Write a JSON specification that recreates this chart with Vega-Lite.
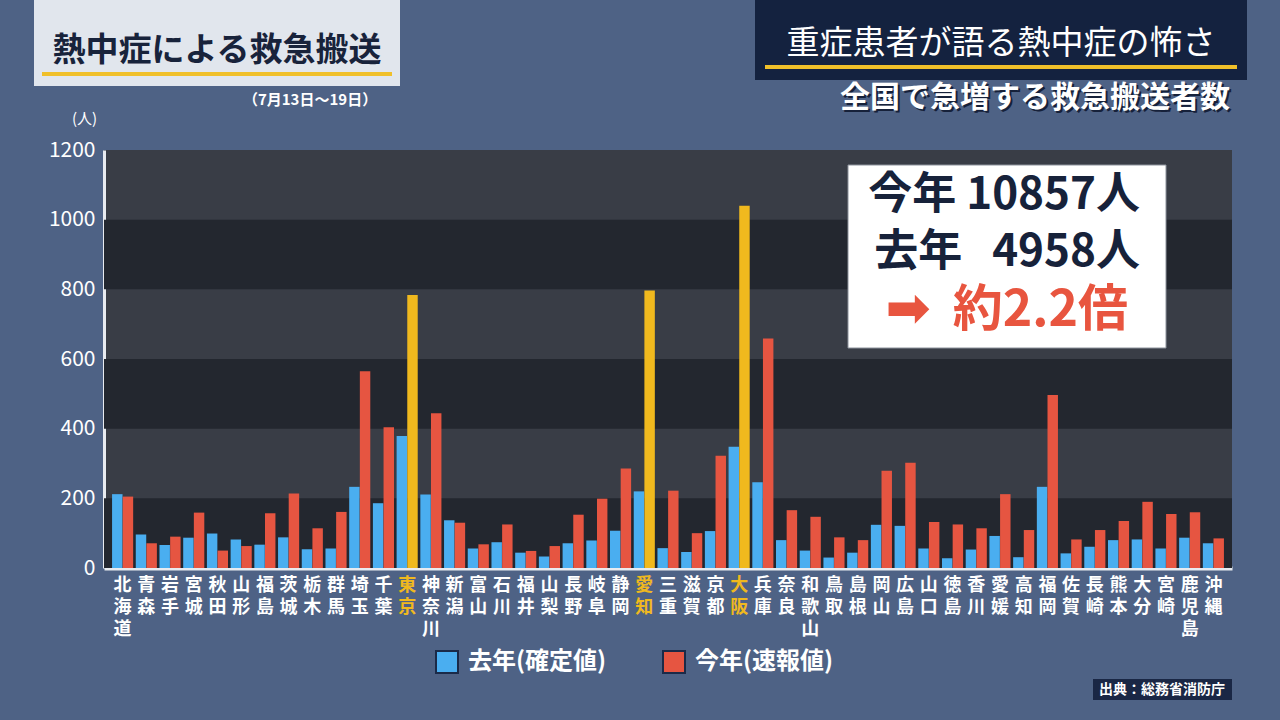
{
  "$schema": "https://vega.github.io/schema/vega-lite/v6.json",
  "width": 1128,
  "height": 418,
  "autosize": {"type": "none"},
  "padding": {"left": 104, "top": 150, "right": 48, "bottom": 152},
  "background": "#4e6285",
  "config": {
    "view": {"fill": "#393d46", "stroke": null},
    "font": "Noto Sans CJK JP"
  },
  "datasets": {
    "bands": [
      {"lo": 0, "hi": 200},
      {"lo": 400, "hi": 600},
      {"lo": 800, "hi": 1000}
    ],
    "main": [
      {"pref": "北海道", "series": "去年(確定値)", "value": 212}, {"pref": "北海道", "series": "今年(速報値)", "value": 205},
      {"pref": "青森", "series": "去年(確定値)", "value": 96}, {"pref": "青森", "series": "今年(速報値)", "value": 71},
      {"pref": "岩手", "series": "去年(確定値)", "value": 66}, {"pref": "岩手", "series": "今年(速報値)", "value": 90},
      {"pref": "宮城", "series": "去年(確定値)", "value": 87}, {"pref": "宮城", "series": "今年(速報値)", "value": 159},
      {"pref": "秋田", "series": "去年(確定値)", "value": 99}, {"pref": "秋田", "series": "今年(速報値)", "value": 50},
      {"pref": "山形", "series": "去年(確定値)", "value": 82}, {"pref": "山形", "series": "今年(速報値)", "value": 63},
      {"pref": "福島", "series": "去年(確定値)", "value": 67}, {"pref": "福島", "series": "今年(速報値)", "value": 157},
      {"pref": "茨城", "series": "去年(確定値)", "value": 88}, {"pref": "茨城", "series": "今年(速報値)", "value": 214},
      {"pref": "栃木", "series": "去年(確定値)", "value": 54}, {"pref": "栃木", "series": "今年(速報値)", "value": 114},
      {"pref": "群馬", "series": "去年(確定値)", "value": 56}, {"pref": "群馬", "series": "今年(速報値)", "value": 161},
      {"pref": "埼玉", "series": "去年(確定値)", "value": 233}, {"pref": "埼玉", "series": "今年(速報値)", "value": 565},
      {"pref": "千葉", "series": "去年(確定値)", "value": 186}, {"pref": "千葉", "series": "今年(速報値)", "value": 404},
      {"pref": "東京", "series": "去年(確定値)", "value": 379}, {"pref": "東京", "series": "今年(速報値)", "value": 784},
      {"pref": "神奈川", "series": "去年(確定値)", "value": 211}, {"pref": "神奈川", "series": "今年(速報値)", "value": 444},
      {"pref": "新潟", "series": "去年(確定値)", "value": 137}, {"pref": "新潟", "series": "今年(速報値)", "value": 130},
      {"pref": "富山", "series": "去年(確定値)", "value": 56}, {"pref": "富山", "series": "今年(速報値)", "value": 68},
      {"pref": "石川", "series": "去年(確定値)", "value": 74}, {"pref": "石川", "series": "今年(速報値)", "value": 125},
      {"pref": "福井", "series": "去年(確定値)", "value": 44}, {"pref": "福井", "series": "今年(速報値)", "value": 49},
      {"pref": "山梨", "series": "去年(確定値)", "value": 33}, {"pref": "山梨", "series": "今年(速報値)", "value": 63},
      {"pref": "長野", "series": "去年(確定値)", "value": 71}, {"pref": "長野", "series": "今年(速報値)", "value": 153},
      {"pref": "岐阜", "series": "去年(確定値)", "value": 79}, {"pref": "岐阜", "series": "今年(速報値)", "value": 199},
      {"pref": "静岡", "series": "去年(確定値)", "value": 107}, {"pref": "静岡", "series": "今年(速報値)", "value": 286},
      {"pref": "愛知", "series": "去年(確定値)", "value": 220}, {"pref": "愛知", "series": "今年(速報値)", "value": 797},
      {"pref": "三重", "series": "去年(確定値)", "value": 57}, {"pref": "三重", "series": "今年(速報値)", "value": 222},
      {"pref": "滋賀", "series": "去年(確定値)", "value": 46}, {"pref": "滋賀", "series": "今年(速報値)", "value": 100},
      {"pref": "京都", "series": "去年(確定値)", "value": 106}, {"pref": "京都", "series": "今年(速報値)", "value": 322},
      {"pref": "大阪", "series": "去年(確定値)", "value": 348}, {"pref": "大阪", "series": "今年(速報値)", "value": 1040},
      {"pref": "兵庫", "series": "去年(確定値)", "value": 246}, {"pref": "兵庫", "series": "今年(速報値)", "value": 659},
      {"pref": "奈良", "series": "去年(確定値)", "value": 80}, {"pref": "奈良", "series": "今年(速報値)", "value": 166},
      {"pref": "和歌山", "series": "去年(確定値)", "value": 50}, {"pref": "和歌山", "series": "今年(速報値)", "value": 147},
      {"pref": "鳥取", "series": "去年(確定値)", "value": 30}, {"pref": "鳥取", "series": "今年(速報値)", "value": 88},
      {"pref": "島根", "series": "去年(確定値)", "value": 44}, {"pref": "島根", "series": "今年(速報値)", "value": 80},
      {"pref": "岡山", "series": "去年(確定値)", "value": 124}, {"pref": "岡山", "series": "今年(速報値)", "value": 279},
      {"pref": "広島", "series": "去年(確定値)", "value": 121}, {"pref": "広島", "series": "今年(速報値)", "value": 302},
      {"pref": "山口", "series": "去年(確定値)", "value": 56}, {"pref": "山口", "series": "今年(速報値)", "value": 132},
      {"pref": "徳島", "series": "去年(確定値)", "value": 28}, {"pref": "徳島", "series": "今年(速報値)", "value": 125},
      {"pref": "香川", "series": "去年(確定値)", "value": 53}, {"pref": "香川", "series": "今年(速報値)", "value": 114},
      {"pref": "愛媛", "series": "去年(確定値)", "value": 92}, {"pref": "愛媛", "series": "今年(速報値)", "value": 212},
      {"pref": "高知", "series": "去年(確定値)", "value": 31}, {"pref": "高知", "series": "今年(速報値)", "value": 109},
      {"pref": "福岡", "series": "去年(確定値)", "value": 233}, {"pref": "福岡", "series": "今年(速報値)", "value": 497},
      {"pref": "佐賀", "series": "去年(確定値)", "value": 42}, {"pref": "佐賀", "series": "今年(速報値)", "value": 82},
      {"pref": "長崎", "series": "去年(確定値)", "value": 61}, {"pref": "長崎", "series": "今年(速報値)", "value": 109},
      {"pref": "熊本", "series": "去年(確定値)", "value": 80}, {"pref": "熊本", "series": "今年(速報値)", "value": 135},
      {"pref": "大分", "series": "去年(確定値)", "value": 82}, {"pref": "大分", "series": "今年(速報値)", "value": 190},
      {"pref": "宮崎", "series": "去年(確定値)", "value": 56}, {"pref": "宮崎", "series": "今年(速報値)", "value": 155},
      {"pref": "鹿児島", "series": "去年(確定値)", "value": 87}, {"pref": "鹿児島", "series": "今年(速報値)", "value": 160},
      {"pref": "沖縄", "series": "去年(確定値)", "value": 71}, {"pref": "沖縄", "series": "今年(速報値)", "value": 85}
    ]
  },
  "layer": [
    {
      "data": {"name": "bands"},
      "mark": {"type": "rect", "color": "#23272f"},
      "encoding": {
        "y": {"field": "lo", "type": "quantitative"},
        "y2": {"field": "hi"},
        "x": {"value": 0},
        "x2": {"value": 1128}
      }
    },
    {
      "data": {"name": "main"},
      "mark": {"type": "bar"},
      "encoding": {
        "x": {
          "field": "pref",
          "type": "nominal",
          "sort": null,
          "scale": {"paddingInner": 0.11, "paddingOuter": 0.34},
          "axis": {
            "title": null,
            "labelAngle": 0,
            "labelExpr": "split(datum.label, '')",
            "labelLineHeight": 22,
            "labelFontSize": 18,
            "labelFontWeight": "bold",
            "labelBaseline": "top",
            "labelPadding": 8,
            "labelColor": {"condition": {"test": "indexof(['東京','愛知','大阪'], datum.value) >= 0", "value": "#f0b91e"}, "value": "#ffffff"},
            "ticks": false,
            "domainColor": "#e8ebf0",
            "domainWidth": 4,
            "labelOverlap": false
          }
        },
        "xOffset": {
          "field": "series",
          "type": "nominal",
          "sort": ["去年(確定値)", "今年(速報値)"],
          "scale": {"paddingInner": 0.02}
        },
        "y": {
          "field": "value",
          "type": "quantitative",
          "scale": {"domain": [0, 1200], "nice": false},
          "axis": {
            "values": [0, 200, 400, 600, 800, 1000, 1200],
            "format": "d",
            "title": "(人)",
            "titleAngle": 0,
            "titleX": -20,
            "titleY": -32,
            "titleAlign": "center",
            "titleBaseline": "middle",
            "titleColor": "#ffffff",
            "titleFontSize": 15,
            "titleFontWeight": "normal",
            "labelColor": "#ffffff",
            "labelFontSize": 21,
            "labelPadding": 9,
            "ticks": false,
            "grid": false,
            "domainColor": "#e8ebf0",
            "domainWidth": 3
          }
        },
        "color": {
          "condition": {"test": "datum.series == '今年(速報値)' && indexof(['東京','愛知','大阪'], datum.pref) >= 0", "value": "#f0b91e"},
          "field": "series",
          "type": "nominal",
          "scale": {"domain": ["去年(確定値)", "今年(速報値)"], "range": ["#4aaef0", "#e65541"]},
          "legend": {
            "title": null,
            "orient": "none",
            "direction": "horizontal",
            "legendX": 331,
            "legendY": 500,
            "symbolType": "square",
            "symbolSize": 484,
            "symbolStrokeColor": "#1b2a48",
            "symbolStrokeWidth": 2,
            "symbolOpacity": 1,
            "labelColor": "#ffffff",
            "labelFontSize": 24,
            "labelFontWeight": "bold",
            "labelOffset": 9,
            "columnPadding": 52,
            "labelLimit": 300
          }
        }
      }
    },
    {
      "data": {"values": [{}]},
      "mark": {"type": "rect", "color": "#e9edf2", "opacity": 0.95},
      "encoding": {"x": {"value": -70}, "x2": {"value": 296}, "y": {"value": -150}, "y2": {"value": -64}}
    },
    {
      "data": {"values": [{}]},
      "mark": {"type": "rect", "color": "#f0c02a"},
      "encoding": {"x": {"value": -62}, "x2": {"value": 288}, "y": {"value": -78}, "y2": {"value": -74}}
    },
    {
      "data": {"values": [{}]},
      "mark": {"type": "text", "text": "熱中症による救急搬送", "fontSize": 33, "fontWeight": "bold", "color": "#18233b", "align": "center", "baseline": "middle"},
      "encoding": {"x": {"value": 113}, "y": {"value": -99}}
    },
    {
      "data": {"values": [{}]},
      "mark": {"type": "text", "text": "（7月13日〜19日）", "fontSize": 15, "fontWeight": "bold", "color": "#ffffff", "align": "center", "baseline": "middle"},
      "encoding": {"x": {"value": 206}, "y": {"value": -50}}
    },
    {
      "data": {"values": [{}]},
      "mark": {"type": "rect", "color": "#14223f"},
      "encoding": {"x": {"value": 651}, "x2": {"value": 1143}, "y": {"value": -150}, "y2": {"value": -70}}
    },
    {
      "data": {"values": [{}]},
      "mark": {"type": "rect", "color": "#f0c02a"},
      "encoding": {"x": {"value": 661}, "x2": {"value": 1133}, "y": {"value": -85}, "y2": {"value": -81}}
    },
    {
      "data": {"values": [{}]},
      "mark": {"type": "text", "text": "重症患者が語る熱中症の怖さ", "fontSize": 33, "color": "#ffffff", "align": "center", "baseline": "middle"},
      "encoding": {"x": {"value": 897}, "y": {"value": -106}}
    },
    {
      "data": {"values": [{}]},
      "mark": {"type": "text", "text": "全国で急増する救急搬送者数", "fontSize": 30, "fontWeight": "bold", "color": "#16213a", "align": "right", "baseline": "middle"},
      "encoding": {"x": {"value": 1128}, "y": {"value": -50}}
    },
    {
      "data": {"values": [{}]},
      "mark": {"type": "text", "text": "全国で急増する救急搬送者数", "fontSize": 30, "fontWeight": "bold", "color": "#ffffff", "align": "right", "baseline": "middle"},
      "encoding": {"x": {"value": 1126}, "y": {"value": -52}}
    },
    {
      "data": {"values": [{}]},
      "mark": {"type": "rect", "color": "#ffffff", "stroke": "#8c929b", "strokeWidth": 1},
      "encoding": {"x": {"value": 744}, "x2": {"value": 1062}, "y": {"value": 15}, "y2": {"value": 198}}
    },
    {
      "data": {"values": [{}]},
      "mark": {"type": "text", "text": "今年 10857人", "fontSize": 44, "fontWeight": "bold", "color": "#17223a", "align": "right", "baseline": "middle"},
      "encoding": {"x": {"value": 1036}, "y": {"value": 46}}
    },
    {
      "data": {"values": [{}]},
      "mark": {"type": "text", "text": "去年\u00a0\u00a0\u00a04958人", "fontSize": 44, "fontWeight": "bold", "color": "#17223a", "align": "right", "baseline": "middle"},
      "encoding": {"x": {"value": 1036}, "y": {"value": 103}}
    },
    {
      "data": {"values": [{}]},
      "mark": {"type": "text", "text": "約2.2倍", "fontSize": 50, "fontWeight": "bold", "color": "#e8553f", "align": "right", "baseline": "middle"},
      "encoding": {"x": {"value": 1024}, "y": {"value": 161}}
    },
    {
      "data": {"values": [{}]},
      "mark": {"type": "text", "text": "➡", "font": "DejaVu Sans", "fontSize": 54, "fontWeight": "bold", "color": "#e8553f", "align": "center", "baseline": "middle"},
      "encoding": {"x": {"value": 804}, "y": {"value": 160}}
    },
    {
      "data": {"values": [{}]},
      "mark": {"type": "rect", "color": "#1a2745"},
      "encoding": {"x": {"value": 989}, "x2": {"value": 1128}, "y": {"value": 529}, "y2": {"value": 550}}
    },
    {
      "data": {"values": [{}]},
      "mark": {"type": "text", "text": "出典：総務省消防庁", "fontSize": 14, "fontWeight": "bold", "color": "#ffffff", "align": "center", "baseline": "middle"},
      "encoding": {"x": {"value": 1058}, "y": {"value": 540}}
    }
  ]
}
